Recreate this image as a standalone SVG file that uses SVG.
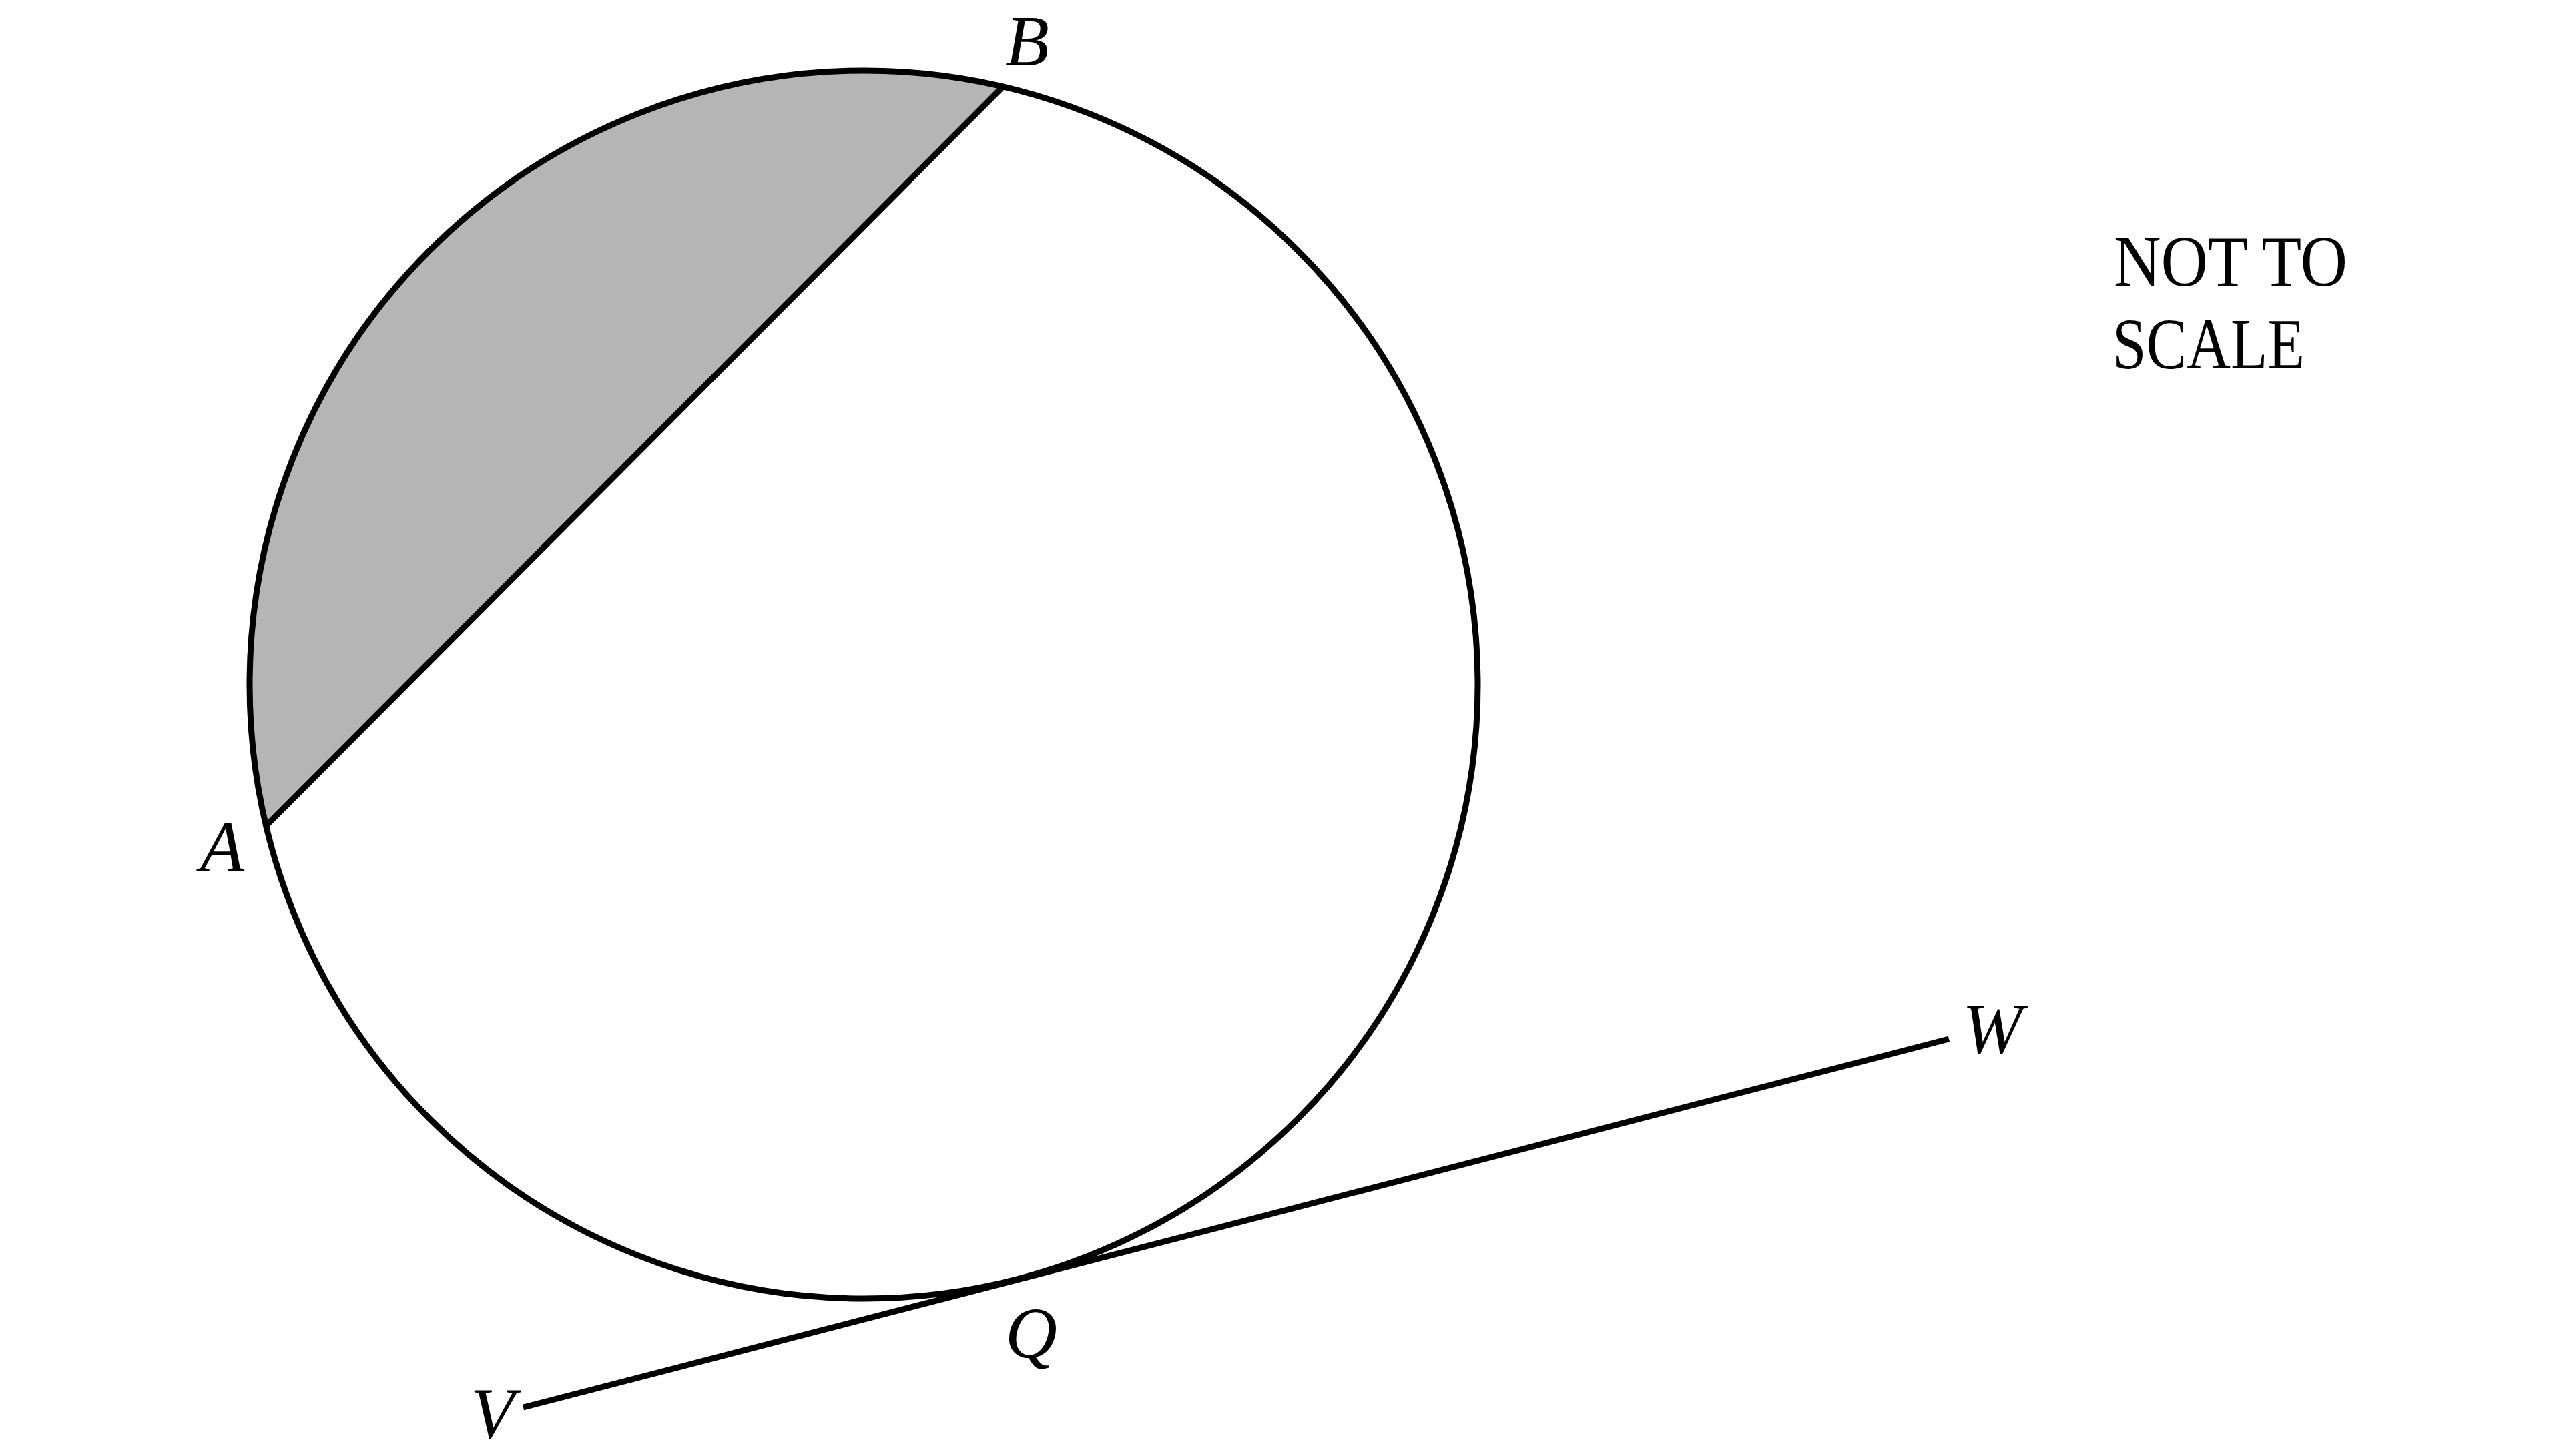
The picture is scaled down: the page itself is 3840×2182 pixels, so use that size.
<svg xmlns="http://www.w3.org/2000/svg" width="3840" height="2182" viewBox="0 0 3840 2182">
<style>
.ln{stroke:#000;stroke-width:9;fill:none;stroke-linecap:butt}
.lbl{font-family:"Liberation Serif","DejaVu Serif",serif;font-style:italic;font-size:108px;fill:#000}
.note{font-family:"Liberation Serif","DejaVu Serif",serif;font-size:108px;fill:#000}
</style>
<rect width="3840" height="2182" fill="#fff"/>
<g id="segment">
<path d="M398.6,1237.6 A920,920 0 0 1 1502.5,130 Z" fill="#b5b5b5" stroke="none"/>
</g>
<g id="circle">
<circle class="ln" cx="1294" cy="1026" r="920"/>
</g>
<g id="connectors">
<line id="chordAB" class="ln" x1="398.6" y1="1237.6" x2="1502.5" y2="130"/>
<line id="tangentVW" class="ln" x1="784" y1="2109" x2="2920" y2="1557"/>
</g>
<g id="labels">
<text id="labelA" class="lbl" x="300" y="1306">A</text>
<text id="labelB" class="lbl" x="1506" y="98">B</text>
<text id="labelQ" class="lbl" x="1506" y="2034">Q</text>
<text id="labelV" class="lbl" x="705" y="2154">V</text>
<text id="labelW" class="lbl" x="2940" y="1578">W</text>
</g>
<g id="note">
<text class="note" x="3167" y="428" textLength="350" lengthAdjust="spacingAndGlyphs">NOT TO</text>
<text class="note" x="3165" y="552" textLength="288" lengthAdjust="spacingAndGlyphs">SCALE</text>
</g>
</svg>
